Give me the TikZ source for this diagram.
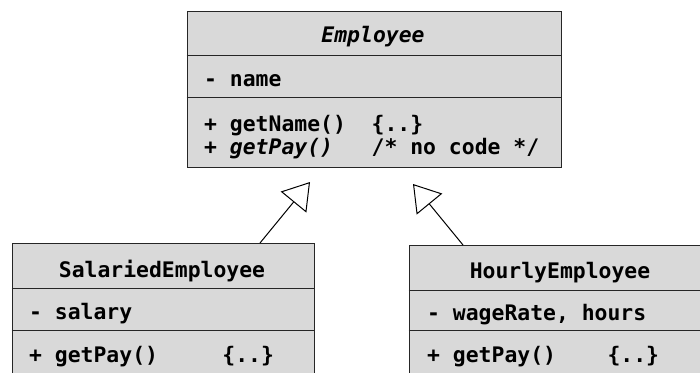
\documentclass[tikz,border=0pt]{standalone}
\usepackage{fontspec}
\setmonofont{DejaVu Sans Mono}
\usetikzlibrary{arrows.meta}
\newcommand\umltext{\ttfamily\bfseries\fontsize{21.4}{24}\selectfont}
\begin{document}
\begin{tikzpicture}[x=1pt,y=-1pt,
  classbox/.style={rectangle, draw=black!85, fill=black!15, line width=1pt, inner sep=0pt},
  member/.style={anchor=base west, inner sep=0pt, font=\umltext},
  classname/.style={anchor=base, inner sep=0pt, font=\umltext},
  divider/.style={draw=black!85, line width=1pt},
  inherits/.style={line width=1pt, -{Triangle[open, length=26pt, width=33pt]}}]
\useasboundingbox (0,0) rectangle (700,372);
\clip (0,0) rectangle (700,372);

% abstract base class
\node[classbox, minimum width=374pt, minimum height=156pt] (emp) at (374,89) {};
\draw[divider] (emp.west |- 0,55) -- (emp.east |- 0,55);
\draw[divider] (emp.west |- 0,97) -- (emp.east |- 0,97);
\node[classname] (empName) at (373,42) {\textit{Employee}};
\node[member] (empAttr) at (204,86) {- name};
\node[member] (empOp1) at (204,131) {+ getName()~~\{..\}};
\node[member] (empOp2) at (204,154) {+ \textit{getPay()}~~~/* no code */};

% salaried subclass
\node[classbox, minimum width=302pt, minimum height=157pt] (sal) at (163,321.5) {};
\draw[divider] (sal.west |- 0,288) -- (sal.east |- 0,288);
\draw[divider] (sal.west |- 0,330) -- (sal.east |- 0,330);
\node[classname] (salName) at (162,277) {SalariedEmployee};
\node[member] (salAttr) at (29,319) {- salary};
\node[member] (salOp) at (29,362) {+ getPay()~~~~~\{..\}};

% hourly subclass
\node[classbox, minimum width=302pt, minimum height=157pt] (hour) at (560,323.5) {};
\draw[divider] (hour.west |- 0,290) -- (hour.east |- 0,290);
\draw[divider] (hour.west |- 0,330) -- (hour.east |- 0,330);
\node[classname] (hourName) at (560,278) {HourlyEmployee};
\node[member] (hourAttr) at (427,320) {- wageRate, hours};
\node[member] (hourOp) at (427,362) {+ getPay()~~~~\{..\}};

% generalization arrows
\coordinate (salTop) at (260,243);
\coordinate (tipL) at (310,182);
\coordinate (hourTop) at (463,245);
\coordinate (tipR) at (413,184);
\draw[inherits] (salTop) -- (tipL);
\draw[inherits] (hourTop) -- (tipR);
\end{tikzpicture}
\end{document}
